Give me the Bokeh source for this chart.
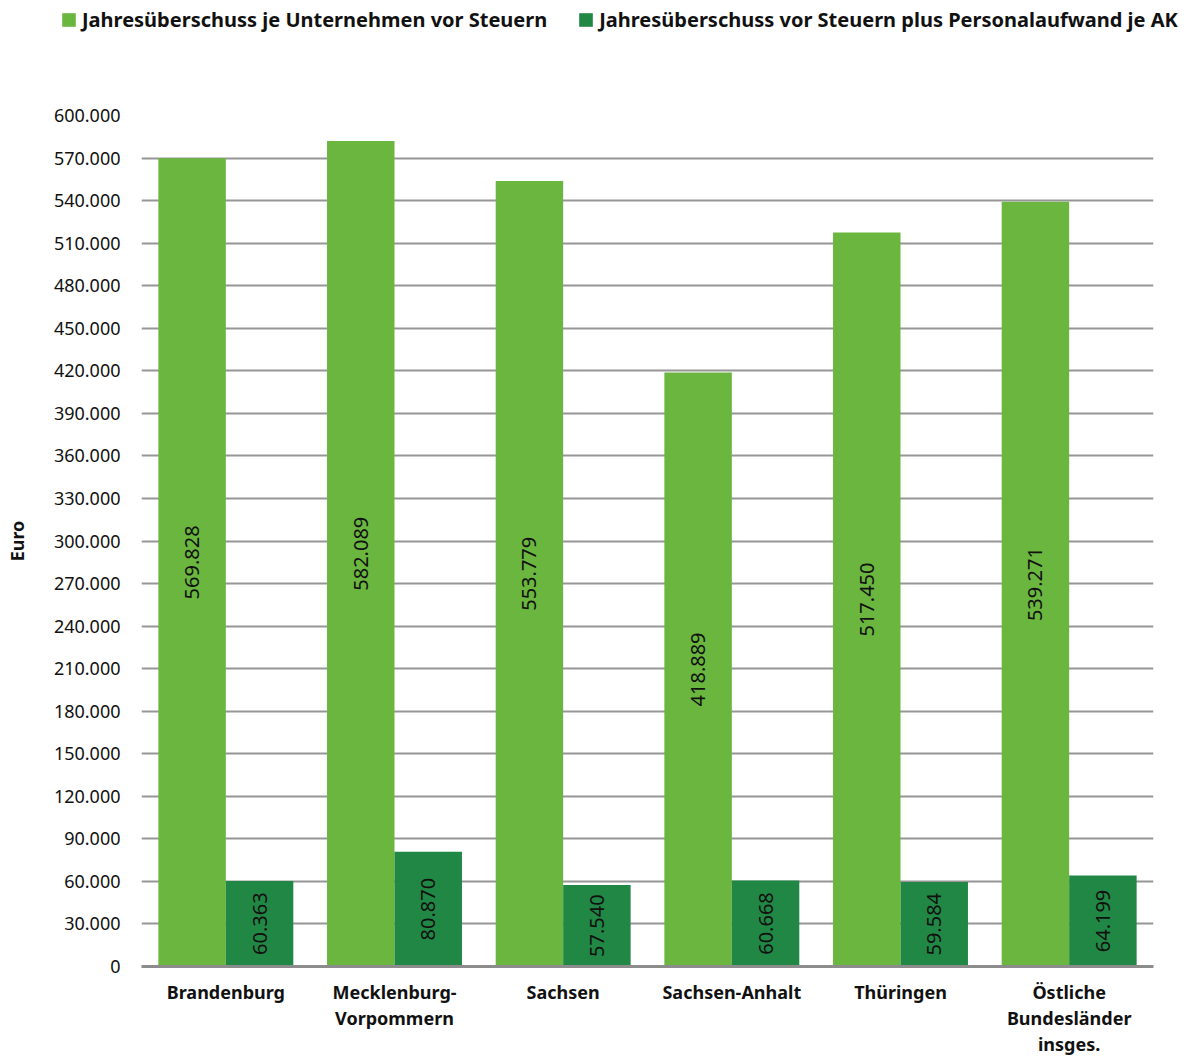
import math
from bokeh.plotting import figure
from bokeh.models import (ColumnDataSource, FixedTicker, Legend, LegendItem, Range1d, LinearAxis)
from bokeh.core.properties import value
from bokeh.embed import file_html
from bokeh.resources import INLINE

categories = ["Brandenburg", "Mecklenburg-Vorpommern", "Sachsen", "Sachsen-Anhalt",
              "Thüringen", "Östliche Bundesländer insges."]
# category labels split into lines (line 1, line 2, line 3)
label_line1 = ["Brandenburg", "Mecklenburg-", "Sachsen", "Sachsen-Anhalt", "Thüringen", "Östliche"]
label_line2 = ["", "Vorpommern", "", "", "", "Bundesländer"]
label_line3 = ["", "", "", "", "", "insges."]
ueberschuss = [569828, 582089, 553779, 418889, 517450, 539271]
personal = [60363, 80870, 57540, 60668, 59584, 64199]
series_names = ["Jahresüberschuss je Unternehmen vor Steuern",
                "Jahresüberschuss vor Steuern plus Personalaufwand je AK"]
y_ticks = [0, 30000, 60000, 90000, 120000, 150000, 180000, 210000, 240000, 270000, 300000,
           330000, 360000, 390000, 420000, 450000, 480000, 510000, 540000, 570000, 600000]
y_tick_labels = ["0", "30.000", "60.000", "90.000", "120.000", "150.000", "180.000", "210.000",
                 "240.000", "270.000", "300.000", "330.000", "360.000", "390.000", "420.000",
                 "450.000", "480.000", "510.000", "540.000", "570.000", "600.000"]
y_axis_title = "Euro"

LIGHT = "#6ab63f"
DARK = "#218745"
FONT = "Noto Sans"
TXT = "#111111"
BAR_W = 0.4


def fmt(v):
    return f"{v:,}".replace(",", ".")


n = len(categories)
centers = [i + 0.5 for i in range(n)]           # category slot centres
src = ColumnDataSource(dict(
    xa=[c - BAR_W / 2 for c in centers],
    xb=[c + BAR_W / 2 for c in centers],
    a=ueberschuss,
    b=personal,
    a_mid=[v / 2 for v in ueberschuss],
    b_mid=[v / 2 for v in personal],
    a_lbl=[fmt(v) for v in ueberschuss],
    b_lbl=[fmt(v) for v in personal],
))

# ---------- legend strip (separate root so it can span the full width) ----------
LEG_H = 40
lf = figure(width=1192, height=LEG_H, x_range=Range1d(-20, -19), y_range=Range1d(0, 1),
            output_backend="svg", toolbar_location=None,
            x_axis_location=None, y_axis_location=None,
            min_border_left=0, min_border_right=0, min_border_top=0, min_border_bottom=0)
lf.outline_line_color = None
lf.xgrid.visible = False
lf.ygrid.visible = False
l1 = lf.vbar(x="xa", top="a", width=BAR_W, source=src, fill_color=LIGHT, line_color=None)
l2 = lf.vbar(x="xb", top="b", width=BAR_W, source=src, fill_color=DARK, line_color=None)
legend = Legend(items=[LegendItem(label=series_names[0], renderers=[l1]),
                       LegendItem(label=series_names[1], renderers=[l2])],
                orientation="horizontal", location=(60, 7),
                glyph_width=17, glyph_height=17, label_standoff=5, spacing=30,
                padding=0, margin=0, border_line_color=None, background_fill_alpha=0,
                label_text_font=FONT, label_text_font_style="bold",
                label_text_font_size="20px", label_text_color=TXT)
lf.add_layout(legend, "center")

# ---------- main chart ----------
p = figure(width=1192, height=1058 - LEG_H, x_range=Range1d(0, n),
           y_range=Range1d(0, 600000), output_backend="svg", toolbar_location=None,
           x_axis_location=None,
           min_border_left=141, min_border_right=39, min_border_top=115 - LEG_H,
           min_border_bottom=92)
p.outline_line_color = None
p.background_fill_color = "white"

p.xgrid.grid_line_color = None
p.ygrid.grid_line_color = "#969696"
p.ygrid.grid_line_width = 2
p.ygrid.ticker = FixedTicker(ticks=y_ticks)

p.vbar(x="xa", top="a", width=BAR_W, source=src, fill_color=LIGHT, line_color=None)
p.vbar(x="xb", top="b", width=BAR_W, source=src, fill_color=DARK, line_color=None)

p.text(x="xa", y="a_mid", text="a_lbl", source=src,
       angle=math.pi / 2, text_align="center", text_baseline="middle",
       text_font=value(FONT), text_font_size="20px", text_color=TXT)
p.text(x="xb", y="b_mid", text="b_lbl", source=src,
       angle=math.pi / 2, text_align="center", text_baseline="middle",
       text_font=value(FONT), text_font_size="20px", text_color=TXT)

# y axis
ya = p.yaxis[0]
ya.ticker = FixedTicker(ticks=y_ticks)
ya.major_label_overrides = {t: l for t, l in zip(y_ticks, y_tick_labels)}
ya.axis_line_color = None
ya.major_tick_line_color = None
ya.major_tick_out = 0
ya.major_tick_in = 0
ya.minor_tick_line_color = None
ya.major_label_text_font = FONT
ya.major_label_text_font_size = "18px"
ya.major_label_text_color = TXT
ya.major_label_standoff = 21
ya.axis_label = y_axis_title
ya.axis_label_text_font = FONT
ya.axis_label_text_font_style = "bold"
ya.axis_label_text_font_size = "18px"
ya.axis_label_text_color = TXT
ya.axis_label_standoff = 22


# x axes: one per label line
def make_x(lines, standoff, line_color=None):
    ax = LinearAxis(ticker=FixedTicker(ticks=centers))
    ax.axis_line_color = line_color
    ax.axis_line_width = 3
    ax.major_tick_line_color = None
    ax.major_tick_out = 0
    ax.major_tick_in = 0
    ax.minor_tick_line_color = None
    ax.minor_tick_out = 0
    ax.major_label_overrides = {c: l for c, l in zip(centers, lines)}
    ax.major_label_text_font = FONT
    ax.major_label_text_font_style = "bold"
    ax.major_label_text_font_size = "18px"
    ax.major_label_text_color = TXT
    ax.major_label_standoff = standoff
    p.add_layout(ax, "below")


make_x(label_line1, 13, "#8c8c8c")
make_x(label_line2, -1)
make_x(label_line3, -1)

open("out.html", "w").write(file_html((lf, p), INLINE))
